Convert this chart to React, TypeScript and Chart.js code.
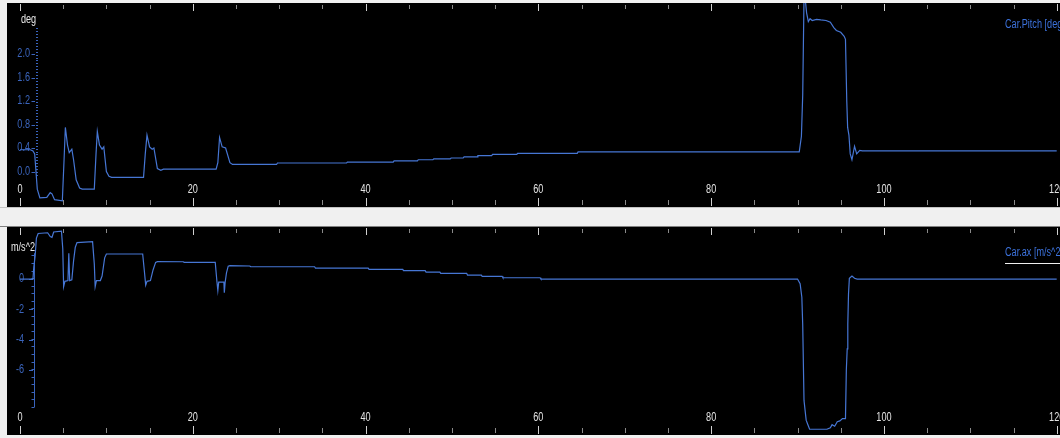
import React, { useEffect, useRef } from "react";
import { Chart, registerables } from "chart.js";

Chart.register(...registerables);

// Time axis (s) shared by both channels
const xTickValues = [0, 20, 40, 60, 80, 100, 120];
const xTickLabels = ["0", "20", "40", "60", "80", "100", "120"];

// Car.Pitch [deg]
const pitchTime = [
  0, 1.2, 1.5, 1.7, 2.0, 2.3, 3.1, 3.5, 3.7, 4.0, 4.9, 5.1, 5.25, 5.5, 5.7, 6.0, 6.2, 6.5, 6.9, 7.2,
  8.6, 8.8, 8.95, 9.2, 9.5, 9.7, 10.0, 10.3, 10.6, 14.3, 14.5, 14.7, 15.0, 15.3, 15.5, 15.9, 16.3, 16.6,
  22.7, 22.9, 23.1, 23.4, 23.8, 24.3, 24.6, 25.0, 29.7, 29.8, 37.8, 37.9, 43.2, 43.3, 46.0, 46.1, 47.8,
  47.9, 49.8, 49.9, 51.3, 51.4, 52.9, 53.0, 54.6, 54.7, 57.5, 57.6, 64.5, 64.6, 90.2, 90.45, 90.6,
  90.75, 90.85, 91.05, 91.25, 91.45, 91.7, 92.2, 92.7, 93.3, 93.8, 94.2, 94.5, 95.0, 95.4, 95.55, 95.7,
  95.8, 95.95, 96.1, 96.3, 96.6, 96.85, 97.2, 97.5, 120,
];
const pitchDeg = [
  0.37, 0.37, 0.35, 0.3, -0.3, -0.45, -0.44, -0.36, -0.38, -0.48, -0.5, 0.2, 0.75, 0.45, 0.32, 0.38, 0.2,
  -0.14, -0.28, -0.3, -0.3, 0.3, 0.68, 0.45, 0.38, 0.42, 0.0, -0.08, -0.1, -0.1, 0.3, 0.62, 0.42, 0.38, 0.4,
  0.05, 0.02, 0.04, 0.04, 0.15, 0.58, 0.42, 0.4, 0.15, 0.12, 0.12, 0.12, 0.145, 0.145, 0.16, 0.16, 0.18,
  0.18, 0.2, 0.2, 0.215, 0.215, 0.23, 0.23, 0.25, 0.25, 0.27, 0.27, 0.29, 0.29, 0.31, 0.31, 0.335, 0.335,
  0.6, 1.3, 2.95, 3.0, 2.7, 2.55, 2.6, 2.57, 2.59, 2.58, 2.57, 2.54, 2.45, 2.4, 2.37, 2.3, 2.25, 1.2, 0.75,
  0.62, 0.3, 0.2, 0.43, 0.3, 0.36, 0.35, 0.35,
];
const pitchTicks = [0, 0.4, 0.8, 1.2, 1.6, 2.0];
const pitchTickLabels = ["0.0", "0.4", "0.8", "1.2", "1.6", "2.0"];

// Car.ax [m/s^2]
const axTime = [
  0, 1.5, 1.6, 1.75, 1.9, 2.1, 3.2, 3.5, 3.7, 3.9, 4.8, 4.95, 5.05, 5.2, 5.55, 5.65, 5.75, 6.0, 6.2,
  6.4, 6.6, 8.4, 8.6, 8.7, 8.85, 9.3, 9.5, 9.8, 10.0, 14.2, 14.4, 14.55, 14.7, 15.1, 15.4, 15.7, 15.9,
  18.9, 19.0, 22.6, 22.8, 22.9, 23.0, 23.6, 23.65, 23.75, 23.9, 24.1, 24.3, 26.6, 26.7, 34.1, 34.2,
  40.3, 40.4, 44.3, 44.4, 46.9, 47.0, 48.6, 48.7, 51.7, 51.8, 53.4, 53.5, 55.8, 55.9, 60.2, 60.3, 90.0,
  90.3, 90.5, 90.6, 90.75, 91.0, 91.2, 91.4, 93.4, 93.8, 94.0, 94.3, 94.6, 94.9, 95.2, 95.55, 95.65,
  95.75, 95.82, 95.9, 96.0, 96.3, 96.6, 96.9, 120,
];
const axAccel = [
  0, 0, 0.8, 1.5, 2.7, 3.0, 3.05, 2.8, 2.75, 3.1, 3.15, 2.0, -0.5, -0.15, -0.1, 1.7, -0.1, -0.05, 1.2,
  2.1, 2.4, 2.46, 1.0, -0.5, -0.1, -0.1, 0.2, 1.4, 1.65, 1.65, 0.5, -0.4, -0.15, -0.1, 0.6, 1.1, 1.15,
  1.14, 1.1, 1.1, -0.2, -0.75, -0.2, -0.2, -0.9, -0.2, 0.4, 0.85, 0.88, 0.86, 0.81, 0.81, 0.725, 0.725,
  0.64, 0.64, 0.55, 0.55, 0.46, 0.46, 0.375, 0.375, 0.26, 0.26, 0.18, 0.18, 0.086, 0.086, 0.0, 0.0, -0.3,
  -1.2, -3.0, -8.0, -9.3, -9.6, -9.9, -9.9, -9.8, -9.6, -9.7, -9.4, -9.35, -9.2, -9.2, -6.0, -4.6, -3.0,
  -1.0, 0.05, 0.2, 0.05, 0.0, 0.0,
];
const axTicks = [0, -2, -4, -6];
const axTickLabels = ["0", "-2", "-4", "-6"];

const X_MIN = -1.505;
const X_MAX = 120.382;
const LINE_COLOR = "#4676d4";
const AXIS_BLUE = "#3a64bc";
const FONT = '"Liberation Sans", Arial, sans-serif';
const NARROW = 0.76;

// Condensed text: the regular sans face squeezed horizontally
function narrowText(ctx: CanvasRenderingContext2D, text: string, x: number, y: number, align: CanvasTextAlign) {
  ctx.save();
  ctx.translate(x, y);
  ctx.scale(NARROW, 1);
  ctx.textAlign = align;
  ctx.fillText(text, 0, 0);
  ctx.restore();
}

type Decor = {
  yTicks: number[];
  yTickLabels: string[];
  labelRight: number;
  dashFrom: number;
  dashTo: number;
  axisX: number;
  axisFrom: number;
  axisTo: number;
  dotted: boolean;
  minorStep: number;
  unit: string;
  unitX: number;
  unitY: number;
  title: string;
  titleY: number;
  underline: boolean;
};

const decorPlugin = {
  id: "panelDecor",
  beforeDatasetsDraw(chart: any, _args: any, opts: Decor) {
    const { ctx, chartArea } = chart;
    const xs = chart.scales.x;
    const ys = chart.scales.y;
    ctx.save();

    // time ticks along top and bottom edges
    ctx.lineWidth = 1;
    for (let v = 0; v <= 120; v += 5) {
      const px = Math.round(xs.getPixelForValue(v)) + 0.5;
      const major = v % 20 === 0;
      ctx.strokeStyle = major ? "#d0d0d0" : "#8a8a8a";
      ctx.beginPath();
      ctx.moveTo(px, chartArea.top + (major ? 1 : 2));
      ctx.lineTo(px, chartArea.top + (major ? 8 : 6));
      ctx.moveTo(px, chartArea.bottom - (major ? 9 : 7));
      ctx.lineTo(px, chartArea.bottom - (major ? 1 : 2));
      ctx.stroke();
    }

    // time labels
    ctx.font = `12px ${FONT}`;
    ctx.fillStyle = "#e4e4e4";
    ctx.textBaseline = "middle";
    xTickValues.forEach((v, i) => {
      narrowText(ctx, xTickLabels[i], xs.getPixelForValue(v), chartArea.bottom - 17, "center");
    });

    // value axis
    const ax = Math.round(opts.axisX) + 0.5;
    const yTop = ys.getPixelForValue(opts.axisFrom);
    const yBot = ys.getPixelForValue(opts.axisTo);
    ctx.strokeStyle = AXIS_BLUE;
    ctx.fillStyle = AXIS_BLUE;
    if (opts.dotted) {
      for (let v = opts.axisTo; v <= opts.axisFrom + 1e-9; v += opts.minorStep) {
        const py = Math.round(ys.getPixelForValue(v));
        ctx.fillRect(ax - 1.5, py, 2, 1);
      }
    } else {
      ctx.beginPath();
      ctx.moveTo(ax, yTop);
      ctx.lineTo(ax, yBot);
      ctx.stroke();
      for (let v = opts.axisTo; v <= opts.axisFrom + 1e-9; v += opts.minorStep) {
        const py = Math.round(ys.getPixelForValue(v)) + 0.5;
        ctx.beginPath();
        ctx.moveTo(ax - 3, py);
        ctx.lineTo(ax, py);
        ctx.stroke();
      }
    }

    // value labels with their dashes
    ctx.font = `12px ${FONT}`;
    opts.yTicks.forEach((v, i) => {
      const py = ys.getPixelForValue(v);
      ctx.fillStyle = AXIS_BLUE;
      narrowText(ctx, opts.yTickLabels[i], opts.labelRight, py, "right");
      ctx.beginPath();
      ctx.moveTo(opts.dashFrom, Math.round(py) + 0.5);
      ctx.lineTo(opts.dashTo, Math.round(py) + 0.5);
      ctx.stroke();
    });

    // unit
    ctx.fillStyle = "#e8e8e8";
    narrowText(ctx, opts.unit, opts.unitX, opts.unitY, "center");

    // channel name
    ctx.font = `12px ${FONT}`;
    ctx.fillStyle = "#3c72dc";
    narrowText(ctx, opts.title, 998, opts.titleY, "left");
    if (opts.underline) {
      ctx.fillStyle = "#f0f0f0";
      ctx.fillRect(998, opts.titleY + 10, chartArea.right - 998, 1);
    }
    ctx.restore();
  },
};

type PanelProps = {
  time: number[];
  values: number[];
  yMin: number;
  yMax: number;
  width: number;
  height: number;
  decor: Decor;
};

function Panel({ time, values, yMin, yMax, width, height, decor }: PanelProps) {
  const ref = useRef<HTMLCanvasElement | null>(null);
  useEffect(() => {
    if (!ref.current) return;
    const points = time.map((t, i) => ({ x: t, y: values[i] }));
    const chart = new Chart(ref.current, {
      type: "line",
      data: {
        datasets: [
          {
            data: points,
            borderColor: LINE_COLOR,
            borderWidth: 1.2,
            pointRadius: 0,
            tension: 0,
            fill: false,
          },
        ],
      },
      options: {
        animation: false,
        responsive: false,
        maintainAspectRatio: false,
        events: [],
        layout: { padding: 0 },
        plugins: {
          legend: { display: false },
          tooltip: { enabled: false },
          panelDecor: decor,
        } as any,
        scales: {
          x: { type: "linear", min: X_MIN, max: X_MAX, display: false },
          y: { type: "linear", min: yMin, max: yMax, display: false },
        },
      },
      plugins: [decorPlugin as any],
    });
    return () => chart.destroy();
  }, []);
  return <canvas ref={ref} width={width} height={height} style={{ display: "block", width, height }} />;
}

export default function App() {
  return (
    <div
      style={{
        position: "fixed",
        left: 0,
        top: 0,
        width: 1060,
        height: 438,
        background: "#f0f0f0",
        overflow: "hidden",
      }}
    >
      <div style={{ position: "absolute", left: 7, top: 3, width: 1053, height: 204, background: "#000" }}>
        <Panel
          time={pitchTime}
          values={pitchDeg}
          yMin={-0.604}
          yMax={2.868}
          width={1053}
          height={204}
          decor={{
            yTicks: pitchTicks,
            yTickLabels: pitchTickLabels,
            labelRight: 23,
            dashFrom: 24.5,
            dashTo: 28,
            axisX: 30,
            axisFrom: 2.44,
            axisTo: -0.06,
            dotted: true,
            minorStep: 0.05,
            unit: "deg",
            unitX: 21.5,
            unitY: 17,
            title: "Car.Pitch [deg]",
            titleY: 22,
            underline: false,
          }}
        />
      </div>
      <div style={{ position: "absolute", left: 0, top: 207, width: 1060, height: 1, background: "#c4c4c4" }} />
      <div style={{ position: "absolute", left: 0, top: 226, width: 1060, height: 1, background: "#808080" }} />
      <div style={{ position: "absolute", left: 7, top: 227, width: 1053, height: 208, background: "#000" }}>
        <Panel
          time={axTime}
          values={axAccel}
          yMin={-10.28}
          yMax={3.43}
          width={1053}
          height={208}
          decor={{
            yTicks: axTicks,
            yTickLabels: axTickLabels,
            labelRight: 17,
            dashFrom: 22,
            dashTo: 26,
            axisX: 27,
            axisFrom: 1.7,
            axisTo: -8.44,
            dotted: false,
            minorStep: 0.5,
            unit: "m/s^2",
            unitX: 16,
            unitY: 21,
            title: "Car.ax [m/s^2]",
            titleY: 26,
            underline: true,
          }}
        />
      </div>
    </div>
  );
}
